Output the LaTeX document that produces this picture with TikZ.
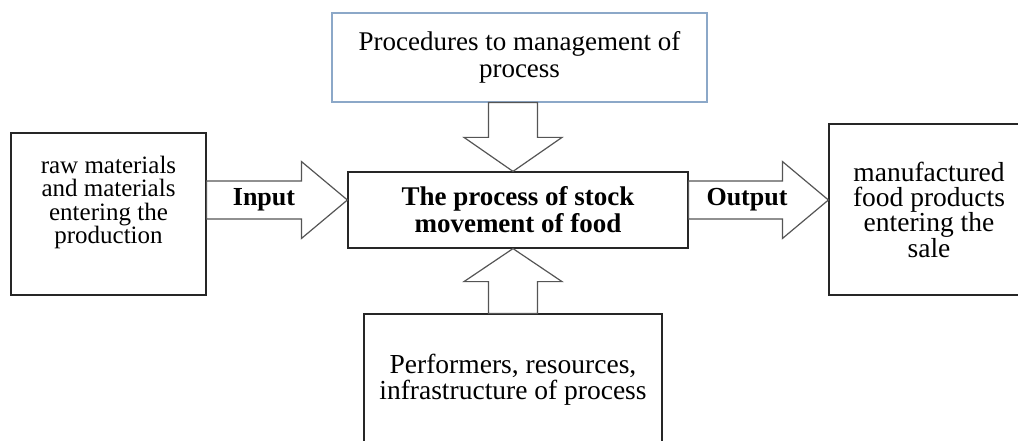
\documentclass[tikz,border=0pt]{standalone}
\usepackage{fontspec}
\setmainfont{Liberation Serif}
\usetikzlibrary{calc}
\definecolor{boxblue}{RGB}{140,168,200}
\definecolor{arrowgray}{RGB}{85,85,85}

\begin{document}
\begin{tikzpicture}[x=1pt,y=-1pt,
  box/.style={draw=black!85,line width=1.2pt,fill=white,inner sep=0pt,align=center,font=\fontsize{27.5}{25}\selectfont},
  lbl/.style={align=center,inner sep=0pt,font=\bfseries\fontsize{26}{27}\selectfont},
  fat/.style n args={3}{draw=arrowgray,line width=1.2pt,fill=white,line join=miter,to path={
    -- ($(\tikztostart)!#1!90:(\tikztotarget)$)
    -- ($($(\tikztotarget)!#3!(\tikztostart)$)!#1!-90:(\tikztostart)$)
    -- ($($(\tikztotarget)!#3!(\tikztostart)$)!#2!-90:(\tikztostart)$)
    -- (\tikztotarget)
    -- ($($(\tikztotarget)!#3!(\tikztostart)$)!#2!90:(\tikztostart)$)
    -- ($($(\tikztotarget)!#3!(\tikztostart)$)!#1!90:(\tikztostart)$)
    -- ($(\tikztostart)!#1!-90:(\tikztotarget)$)
    -- cycle}}]
\useasboundingbox (0,0) rectangle (1018,441);

\coordinate (axis) at (0,200);
\coordinate (stem) at (513,0);

\node[box,draw=boxblue,minimum width=375,minimum height=89,font=\fontsize{27}{27}\selectfont] (rules) at (519.5,57.5) {Procedures to management of\\process};
\node[box,minimum width=340,minimum height=76,font=\bfseries\fontsize{27}{27}\selectfont] (proc) at (518,210) {The process of stock\\movement of food};
\node[box,minimum width=195,minimum height=162] (in) at (108.5,214) {};
\node[align=center,inner sep=0pt,font=\fontsize{25}{23.5}\selectfont] (in text) at ($(in)+(0,-11.5)$) {raw materials\\and materials\\entering the\\production};
\node[box,minimum width=200,minimum height=171] (out) at (929,209.5) {manufactured\\food products\\entering the\\sale};
\node[box,minimum width=298,minimum height=132,font=\fontsize{27.5}{26}\selectfont] (perf) at (513,380) {Performers, resources,\\infrastructure of process};

\draw[fat={19pt}{38.5pt}{46pt}] (in.east |- axis) to (proc.west |- axis);
\draw[fat={19pt}{38.5pt}{46pt}] (proc.east |- axis) to (out.west |- axis);
\draw[fat={24.5pt}{49pt}{34pt}] (rules.south -| stem) to (proc.north -| stem);
\draw[fat={24.5pt}{49pt}{33pt}] (perf.north -| stem) to (proc.south -| stem);

\node[lbl] (input) at (264,200) {Input};
\node[lbl] (output) at (747,200) {Output};
\end{tikzpicture}
\end{document}
